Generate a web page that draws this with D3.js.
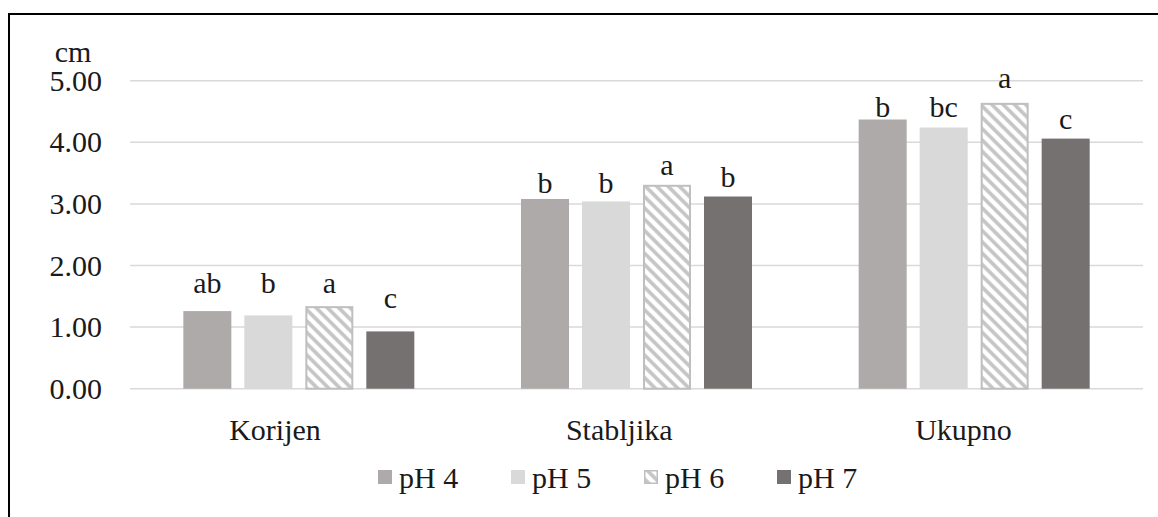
<!DOCTYPE html>
<html>
<head>
<meta charset="utf-8">
<script src="https://cdn.jsdelivr.net/npm/d3@7"></script>
<style>
  body { margin: 0; background: #fff; }
</style>
</head>
<body>
<svg width="1158" height="517"></svg>
<script>
var categories = ["Korijen", "Stabljika", "Ukupno"];
var series = ["pH 4", "pH 5", "pH 6", "pH 7"];
// mean length, cm (rows = category, cols = series)
var values = [
  [1.26, 1.19, 1.34, 0.93],
  [3.08, 3.04, 3.31, 3.12],
  [4.37, 4.24, 4.64, 4.06]
];
// significance letters and the height (cm) where each one sits
var letters = [
  ["ab", "b", "a", "c"],
  ["b", "b", "a", "b"],
  ["b", "bc", "a", "c"]
];
var letterAt = [
  [1.55, 1.55, 1.56, 1.31],
  [3.18, 3.18, 3.47, 3.28],
  [4.41, 4.41, 4.88, 4.21]
];
var yTicks = [0, 1, 2, 3, 4, 5];

var fills = ["#aeaaaa", "#d9d9d9", "url(#hatch)", "#767171"];
var FONT = "Liberation Serif, DejaVu Serif, serif";

var svg = d3.select("svg");

var defs = svg.append("defs");
var pat = defs
  .append("pattern")
  .attr("id", "hatch")
  .attr("patternUnits", "userSpaceOnUse")
  .attr("width", 8)
  .attr("height", 8)
  .attr("patternTransform", "rotate(-45)");
pat.append("rect").attr("width", 8).attr("height", 8).attr("fill", "#fff");
pat
  .append("line")
  .attr("x1", 2)
  .attr("y1", 0)
  .attr("x2", 2)
  .attr("y2", 8)
  .attr("stroke", "#c4c4c4")
  .attr("stroke-width", 3.6);

// outer frame (runs off the right and bottom of the picture)
svg
  .append("rect")
  .attr("x", 9)
  .attr("y", 14)
  .attr("width", 1200)
  .attr("height", 600)
  .attr("fill", "none")
  .attr("stroke", "#000")
  .attr("stroke-width", 2);

var y = d3.scaleLinear().domain([0, 5]).range([388.7, 80.7]);
var x0 = d3.scaleBand().domain(categories).range([130, 1143]);
var gw = x0.bandwidth();
var x1 = d3
  .scaleBand()
  .domain(series)
  .range([(gw - 231) / 2, (gw + 231) / 2])
  .paddingInner(0.213);
// the category labels in the original sit a little left of the bar clusters
var xl = d3.scalePoint().domain(categories).range([275, 963.5]);

// gridlines
svg
  .append("g")
  .selectAll("line")
  .data(yTicks)
  .enter()
  .append("line")
  .attr("x1", 130)
  .attr("x2", 1143)
  .attr("y1", function (d) { return y(d); })
  .attr("y2", function (d) { return y(d); })
  .attr("stroke", "#d9d9d9")
  .attr("stroke-width", 1.5);

var txt = svg.append("g")
  .style("font-family", FONT)
  .style("font-size", "30px")
  .style("fill", "#1a1a1a");

// y tick labels
txt
  .append("g")
  .selectAll("text")
  .data(yTicks)
  .enter()
  .append("text")
  .attr("x", 102)
  .attr("y", function (d) { return y(d) + 10; })
  .attr("text-anchor", "end")
  .text(function (d) { return d3.format(".2f")(d); });

txt
  .append("text")
  .attr("x", 73)
  .attr("y", 62)
  .attr("text-anchor", "middle")
  .text("cm");

var groups = svg
  .append("g")
  .selectAll("g")
  .data(categories)
  .enter()
  .append("g")
  .attr("transform", function (d) { return "translate(" + x0(d) + ",0)"; });

groups
  .selectAll("rect")
  .data(function (d, i) {
    return series.map(function (s, j) {
      return { s: s, j: j, v: values[i][j] };
    });
  })
  .enter()
  .append("rect")
  .attr("x", function (d) { return x1(d.s) + (d.j === 2 ? 1 : 0); })
  .attr("width", function (d) { return x1.bandwidth() - (d.j === 2 ? 2 : 0); })
  .attr("y", function (d) { return y(d.v) + (d.j === 2 ? 1 : 0); })
  .attr("height", function (d) { return y(0) - y(d.v) - (d.j === 2 ? 1 : 0); })
  .attr("fill", function (d) { return fills[d.j]; })
  .attr("stroke", function (d) { return d.j === 2 ? "#bfbfbf" : "none"; })
  .attr("stroke-width", 2);

groups
  .selectAll("text.lbl")
  .data(function (d, i) {
    return series.map(function (s, j) {
      return { s: s, t: letters[i][j], at: letterAt[i][j] };
    });
  })
  .enter()
  .append("text")
  .attr("class", "lbl")
  .attr("x", function (d) { return x1(d.s) + x1.bandwidth() / 2; })
  .attr("y", function (d) { return y(d.at); })
  .attr("text-anchor", "middle")
  .style("font-family", FONT)
  .style("font-size", "30px")
  .style("fill", "#1a1a1a")
  .text(function (d) { return d.t; });

// category labels
txt
  .append("g")
  .selectAll("text")
  .data(categories)
  .enter()
  .append("text")
  .attr("x", function (d) { return xl(d); })
  .attr("y", 440)
  .attr("text-anchor", "middle")
  .text(function (d) { return d; });

// legend
var legend = svg
  .append("g")
  .selectAll("g")
  .data(series)
  .enter()
  .append("g")
  .attr("transform", function (d, i) { return "translate(" + (378 + i * 133) + ",470)"; });

legend
  .append("rect")
  .attr("x", function (d, i) { return i === 2 ? 0.75 : 0; })
  .attr("y", function (d, i) { return i === 2 ? 0.75 : 0; })
  .attr("width", function (d, i) { return i === 2 ? 12.5 : 14; })
  .attr("height", function (d, i) { return i === 2 ? 12.5 : 14; })
  .attr("fill", function (d, i) { return fills[i]; })
  .attr("stroke", function (d, i) { return i === 2 ? "#bfbfbf" : "none"; })
  .attr("stroke-width", 1.5);

legend
  .append("text")
  .attr("x", 21)
  .attr("y", 18)
  .style("font-family", FONT)
  .style("font-size", "30px")
  .style("fill", "#1a1a1a")
  .text(function (d) { return d; });
</script>
</body>
</html>
